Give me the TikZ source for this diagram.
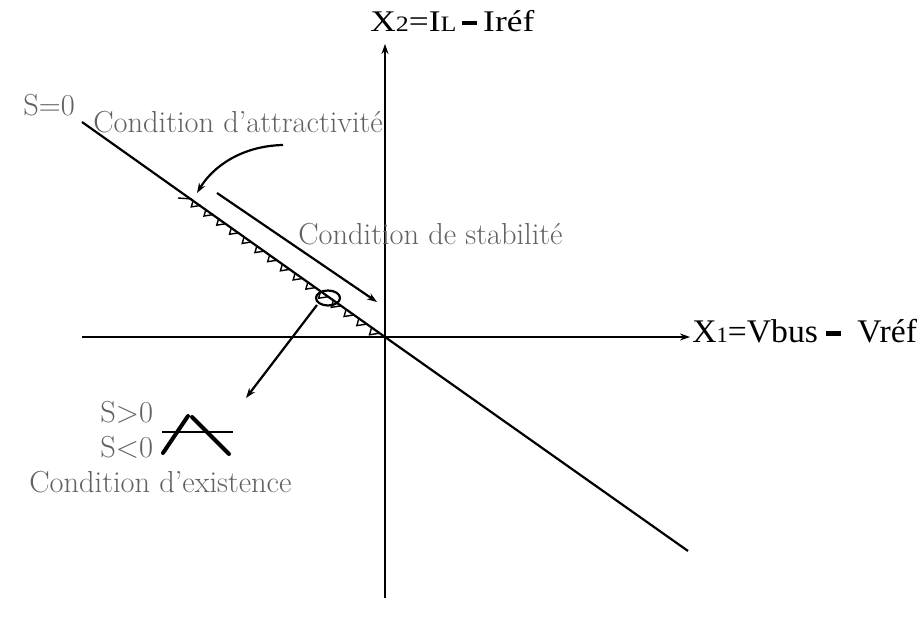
\documentclass[tikz,border=0pt]{standalone}
\usepackage{fontspec}
\newfontfamily\axisfont{Liberation Serif}
\usetikzlibrary{arrows.meta,calc}
\tikzset{
    plan axis/.style={line width=1.1pt, -{Stealth[length=5pt,width=3.5pt]}},
    plan line/.style={line width=1.1pt},
    plan arrow/.style={line width=1.1pt, -{Stealth[length=5pt,width=3.5pt]}},
    plan tooth/.style={line width=0.7pt},
    plan sign/.style={line width=2pt, line cap=round},
    plan text/.style={font=\fontsize{15.2}{18}\selectfont, text=black!62, inner sep=0pt},
    plan axis label/.style={font=\axisfont\fontsize{16.5}{19}\selectfont, inner sep=0pt}
}
\newcommand{\axsub}[1]{{\fontsize{11}{12}\selectfont #1}}
\newcommand{\axbar}{\rule[0.22em]{0.42em}{0.13em}}

\begin{document}
\begin{tikzpicture}[x=0.5pt,y=-0.5pt]
\useasboundingbox (0,0) rectangle (922,619);
% Axes
\coordinate (O) at (385,337);
\coordinate (x1start) at (82,337);
\coordinate (x1end) at (690,337);
\coordinate (x2start) at (385,598);
\coordinate (x2end) at (385,44);
\draw[plan axis] (x1start) -- (x1end);
\draw[plan axis] (x2start) -- (x2end);
\node[plan axis label, anchor=base west] (x1lab) at (692,343)
    {\scalebox{1.02}[1]{X\axsub{1}=Vbus \axbar\ \ Vréf}};
\node[plan axis label, anchor=base west, font=\axisfont\fontsize{15}{18}\selectfont] (x2lab) at (370,32)
    {\scalebox{1.18}[1]{X\axsub{2}=I\axsub{L}\,\axbar\,Iréf}};

% Sliding surface S=0
\coordinate (s0start) at (82,122);
\coordinate (s0end) at (688,551);
\draw[plan line] (s0start) -- (O) -- (s0end);
\node[plan text, anchor=base west] (s0lab) at (23,116) {S=0};

% Teeth along the surface
\coordinate (tick) at (178,198);
\coordinate (tA) at (192,199);
\coordinate (tB) at (383,336);
\draw[plan tooth] (tick) -- (tA);
\foreach \i in {0,...,14} {
    \draw[plan tooth] ($(tA)!{(\i+0.1)/15}!(tB)$) -- ++(-2,7) -- ($(tA)!{(\i+0.7)/15}!(tB)$);
}

% Attractivity
\node[plan text, anchor=base west] (attlab) at (93,133) {Condition d'attractivité};
\coordinate (attstart) at (283,145);
\coordinate (attend) at (197,193);
\draw[plan arrow] (attstart) .. controls (240,146) and (212,168) .. (attend);

% Stability
\node[plan text, anchor=base west] (stablab) at (298,245) {Condition de stabilité};
\coordinate (stabstart) at (217,193);
\coordinate (stabend) at (377,302);
\draw[plan arrow] (stabstart) -- (stabend);

% Existence
\coordinate (exc) at (328,298);
\draw[plan line] (exc) ellipse (12 and 7.5);
\coordinate (exstart) at (317,305);
\coordinate (exend) at (246,398);
\draw[plan arrow] (exstart) -- (exend);
\node[plan text, anchor=base west] (sposlab) at (100,423) {S>0};
\node[plan text, anchor=base west] (sneglab) at (100,458) {S<0};
\coordinate (hl) at (162,432);
\coordinate (hr) at (233,432);
\coordinate (vl) at (163,453);
\coordinate (vt) at (188,416);
\coordinate (vt2) at (192,417);
\coordinate (vr) at (229,454);
\draw[line width=0.6pt] (hl) -- (hr);
\draw[plan sign] (vl) -- (vt);
\draw[plan sign] (vt2) -- (vr);
\node[plan text, anchor=base west] (exlab) at (29,493) {Condition d'existence};
\end{tikzpicture}
\end{document}
